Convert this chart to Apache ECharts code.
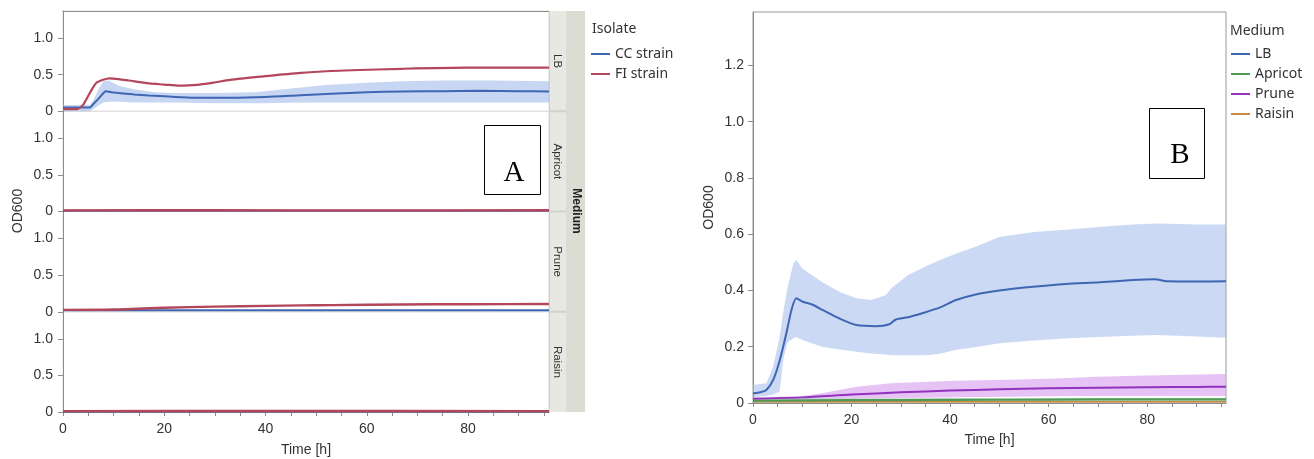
<!DOCTYPE html>
<html><head><meta charset="utf-8">
<script src="https://cdn.jsdelivr.net/npm/echarts@6/dist/echarts.min.js"></script>
<style>html,body{margin:0;padding:0;background:#fff}#c{width:1314px;height:459px}</style>
</head><body><div id="c"></div>
<script>
// ---------- tick / label arrays ----------
const xTicks = [0,5,10,15,20,25,30,35,40,45,50,55,60,65,70,75,80,85,90,95];
const xLabels = [0,20,40,60,80];
const yTicksA = [0,0.5,1.0];
const yTicksB = [0,0.2,0.4,0.6,0.8,1.0,1.2];
const facetNames = ['LB','Apricot','Prune','Raisin'];
const isolateNames = ['CC strain','FI strain'];
const mediumNames = ['LB','Apricot','Prune','Raisin'];

// ---------- Panel A : LB facet ----------
const A_LB_CC_t = [0,3,5.3,6,7,8,8.4,10,14,17,21,26,33,40,47,53,60,67,75,82,90,96];
const A_LB_CC_v = [0.05,0.05,0.05,0.1,0.17,0.25,0.275,0.255,0.23,0.215,0.2,0.185,0.185,0.195,0.22,0.24,0.26,0.27,0.275,0.28,0.275,0.27];
const A_LB_CCband_t  = [0,5.3,6,7,8,9,11,14,18,22,30,38,45,52,60,67,75,85,96];
const A_LB_CCband_hi = [0.085,0.085,0.15,0.3,0.41,0.42,0.35,0.3,0.26,0.25,0.25,0.26,0.31,0.36,0.39,0.41,0.42,0.42,0.41];
const A_LB_CCband_lo = [0.0,0.0,0.03,0.08,0.12,0.13,0.13,0.12,0.12,0.12,0.11,0.11,0.115,0.12,0.12,0.12,0.12,0.12,0.12];
const A_LB_FI_t = [0,2.7,4,5.3,6.6,7.9,9.2,11,13,17,20,23,27,29.7,33,40,47,53,57,67,80,96];
const A_LB_FI_v = [0.03,0.03,0.09,0.25,0.39,0.43,0.45,0.44,0.42,0.38,0.365,0.35,0.365,0.39,0.43,0.48,0.525,0.55,0.56,0.58,0.595,0.595];
// ---------- Panel A : Apricot facet ----------
const A_AP_CC_t = [0,96];
const A_AP_CC_v = [0.01,0.01];
const A_AP_FI_t = [0,30,60,96];
const A_AP_FI_v = [0.015,0.017,0.015,0.017];
// ---------- Panel A : Prune facet ----------
const A_PR_CC_t = [0,96];
const A_PR_CC_v = [0.02,0.02];
const A_PR_FI_t = [0,10,20,30,40,47,53,67,80,96];
const A_PR_FI_v = [0.025,0.03,0.055,0.07,0.08,0.087,0.09,0.1,0.103,0.105];
// ---------- Panel A : Raisin facet ----------
const A_RA_CC_t = [0,96];
const A_RA_CC_v = [0.008,0.008];
const A_RA_FI_t = [0,40,96];
const A_RA_FI_v = [0.012,0.013,0.012];

// ---------- Panel B ----------
const B_LB_t = [0,1.5,2.7,4.1,5.4,6.8,7.8,8.8,10.1,12,14.2,17.6,21,25,27.7,29,31.5,34.5,38,41.2,45,50,56.8,63.5,70.3,77,81.5,84,90,96];
const B_LB_v = [0.034,0.038,0.046,0.082,0.15,0.25,0.33,0.372,0.36,0.35,0.33,0.30,0.277,0.273,0.28,0.297,0.305,0.32,0.34,0.366,0.385,0.40,0.413,0.423,0.429,0.437,0.44,0.433,0.432,0.433];
const B_LBband_t  = [0,2.7,4.1,5.4,6.2,7,8.2,8.8,10,14,17.6,21,24,27,28,31.5,35,38,41,45,50,57,64,70,77,82,90,96];
const B_LBband_hi = [0.064,0.07,0.13,0.235,0.33,0.41,0.496,0.508,0.478,0.43,0.395,0.372,0.366,0.384,0.407,0.455,0.485,0.508,0.53,0.555,0.59,0.608,0.617,0.626,0.635,0.638,0.635,0.635];
const B_LBband_lo = [0.02,0.025,0.03,0.04,0.16,0.215,0.23,0.235,0.224,0.2,0.19,0.182,0.176,0.172,0.17,0.17,0.17,0.175,0.188,0.198,0.212,0.222,0.23,0.235,0.239,0.242,0.236,0.232];
const B_PR_t = [0,10,20,30,40,50,60,70,80,90,96];
const B_PR_v = [0.015,0.02,0.03,0.038,0.044,0.049,0.052,0.054,0.056,0.057,0.058];
const B_PRband_t  = [0,10,14,21,28,41,52,60,70,80,96];
const B_PRband_hi = [0.02,0.025,0.035,0.058,0.07,0.079,0.083,0.086,0.093,0.098,0.103];
const B_PRband_lo = [0.01,0.012,0.013,0.015,0.017,0.02,0.022,0.024,0.025,0.025,0.025];
const B_AP_t = [0,20,40,60,80,96];
const B_AP_v = [0.008,0.01,0.011,0.012,0.013,0.013];
const B_APband_t  = [0,40,96];
const B_APband_hi = [0.016,0.018,0.019];
const B_APband_lo = [0.003,0.004,0.005];
const B_RA_t = [0,96];
const B_RA_v = [0.004,0.004];

// ---------- styling ----------
const FONT = '"Liberation Sans", Arial, sans-serif';
const LFONT = '"Noto Sans", "Open Sans", sans-serif';
const AXC = '#8c8c8c';
const TXT = '#333333';
const C_CC = '#3e66b2', C_FI = '#b3465b';
const C_LB = '#3e66b2', C_AP = '#4f9a55', C_PR = '#9232bd', C_RA = '#c98b3c';
const gridTopsA = [11, 111.25, 211.5, 311.75];
const gridHA = 100.25;

function zip(t, v){ return t.map((x,i)=>[x, v[i]]); }
function fmt(v){ return v === 0 ? '0' : v.toFixed(1); }

function band(name, xi, yi, t, lo, hi, color, z){
  return {
    type:'custom', name:name, xAxisIndex:xi, yAxisIndex:yi, z:z, silent:true,
    data: t.map((x,i)=>[x, lo[i], hi[i]]),
    encode:{x:0, y:[1,2]},
    renderItem: function(params, api){
      if (params.dataIndex !== 0) return null;
      const pts = [];
      for (let i=0;i<t.length;i++) pts.push(api.coord([t[i], hi[i]]));
      for (let i=t.length-1;i>=0;i--) pts.push(api.coord([t[i], lo[i]]));
      return {type:'polygon', shape:{points:pts}, style:{fill:color}};
    }
  };
}
function line(name, xi, yi, t, v, color, w, z){
  return {type:'line', name:name, xAxisIndex:xi, yAxisIndex:yi, data:zip(t,v),
    showSymbol:false, symbol:'none', smooth:0.25, z:z,
    lineStyle:{width:w, color:color}, itemStyle:{color:color}, emphasis:{disabled:true}};
}

const grids = [], xAxes = [], yAxes = [];
for (let i=0;i<4;i++){
  grids.push({left:63, top:gridTopsA[i], width:486, height:gridHA, show:true,
    borderColor:'#dedede', borderWidth:1, backgroundColor:'transparent', outerBoundsMode:'none', containLabel:false});
  const bottom = i===3;
  xAxes.push({type:'value', gridIndex:i, min:0, max:96, position: i===0?'top':'bottom',
    axisLine:{show: i===0 || bottom, onZero:false, lineStyle:{color:AXC, width:1}},
    axisTick:{show:bottom, customValues:xTicks, length:4, lineStyle:{color:AXC}},
    axisLabel:{show:bottom, customValues:xLabels, margin:10, color:TXT, fontSize:14, fontFamily:FONT},
    splitLine:{show:false},
    name: bottom ? 'Time [h]' : '', nameLocation:'middle', nameGap:31,
    nameTextStyle:{color:TXT, fontSize:14, fontFamily:FONT}});
  yAxes.push({type:'value', gridIndex:i, min:0, max:1.37,
    axisLine:{show:true, onZero:false, lineStyle:{color:AXC, width:1}},
    axisTick:{show:true, customValues:yTicksA, length:5, lineStyle:{color:AXC}},
    axisLabel:{customValues:yTicksA, formatter:fmt, margin:10, color:TXT, fontSize:14, fontFamily:FONT},
    splitLine:{show:false}});
}
// panel B
grids.push({left:753, top:12, width:473, height:391, show:true, borderColor:'#9a9a9a', borderWidth:1,
  backgroundColor:'transparent', outerBoundsMode:'none', containLabel:false});
xAxes.push({type:'value', gridIndex:4, min:0, max:96,
  axisLine:{show:true, onZero:false, lineStyle:{color:AXC}},
  axisTick:{show:true, customValues:xTicks, length:4, lineStyle:{color:AXC}},
  axisLabel:{customValues:xLabels, margin:10, color:TXT, fontSize:14, fontFamily:FONT},
  splitLine:{show:false}, name:'Time [h]', nameLocation:'middle', nameGap:30,
  nameTextStyle:{color:TXT, fontSize:14, fontFamily:FONT}});
yAxes.push({type:'value', gridIndex:4, min:0, max:1.39,
  axisLine:{show:true, onZero:false, lineStyle:{color:AXC}},
  axisTick:{show:true, customValues:yTicksB, length:5, lineStyle:{color:AXC}},
  axisLabel:{customValues:yTicksB, formatter:fmt, margin:9, color:TXT, fontSize:14, fontFamily:FONT},
  splitLine:{show:false}, name:'OD600', nameLocation:'middle', nameGap:37,
  nameTextStyle:{color:TXT, fontSize:14, fontFamily:FONT}});

const series = [
  band('CC band', 0, 0, A_LB_CCband_t, A_LB_CCband_lo, A_LB_CCband_hi, 'rgba(160,186,235,0.6)', 1),
  line('CC strain', 0, 0, A_LB_CC_t, A_LB_CC_v, C_CC, 2, 3),
  line('FI strain', 0, 0, A_LB_FI_t, A_LB_FI_v, C_FI, 2.2, 4),
  line('CC strain', 1, 1, A_AP_CC_t, A_AP_CC_v, C_CC, 2, 3),
  line('FI strain', 1, 1, A_AP_FI_t, A_AP_FI_v, C_FI, 2.4, 4),
  line('CC strain', 2, 2, A_PR_CC_t, A_PR_CC_v, C_CC, 2, 3),
  line('FI strain', 2, 2, A_PR_FI_t, A_PR_FI_v, C_FI, 2.4, 4),
  line('CC strain', 3, 3, A_RA_CC_t, A_RA_CC_v, C_CC, 2, 3),
  line('FI strain', 3, 3, A_RA_FI_t, A_RA_FI_v, C_FI, 2.4, 4),
  band('LB band', 4, 4, B_LBband_t, B_LBband_lo, B_LBband_hi, 'rgba(160,186,235,0.55)', 1),
  band('Prune band', 4, 4, B_PRband_t, B_PRband_lo, B_PRband_hi, 'rgba(220,170,240,0.7)', 1),
  band('Apricot band', 4, 4, B_APband_t, B_APband_lo, B_APband_hi, 'rgba(190,215,190,0.7)', 1),
  line('Raisin', 4, 4, B_RA_t, B_RA_v, C_RA, 1.5, 3),
  line('Apricot', 4, 4, B_AP_t, B_AP_v, C_AP, 2.2, 3),
  line('Prune', 4, 4, B_PR_t, B_PR_v, C_PR, 2, 4),
  line('LB', 4, 4, B_LB_t, B_LB_v, C_LB, 2, 5)
];

// facet strips (decoration + labels)
const graphic = [
  {type:'rect', shape:{x:549, y:11, width:17, height:401}, style:{fill:'#e8e8e2'}, z:10},
  {type:'rect', shape:{x:566, y:11, width:19, height:401}, style:{fill:'#dcdcd2'}, z:10},
  {type:'line', shape:{x1:549.5, y1:11, x2:549.5, y2:412}, style:{stroke:'#cfcfca', lineWidth:1}, z:11}
];
for (let i=1;i<4;i++){
  graphic.push({type:'line', shape:{x1:549, y1:gridTopsA[i], x2:566, y2:gridTopsA[i]}, style:{stroke:'#d2d2cc', lineWidth:2}, z:11});
}
facetNames.forEach((n,i)=>{
  graphic.push({type:'text', x:557.5, y:gridTopsA[i]+gridHA/2, rotation:-Math.PI/2, z:12,
    style:{text:n, fill:TXT, font:'11.5px '+FONT, textAlign:'center', textVerticalAlign:'middle'}});
});
graphic.push({type:'text', x:576, y:211, rotation:-Math.PI/2, z:12,
  style:{text:'Medium', fill:'#222', font:'bold 12px '+FONT, textAlign:'center', textVerticalAlign:'middle'}});
graphic.push({type:'text', x:18, y:211, rotation:Math.PI/2, z:12,
  style:{text:'OD600', fill:TXT, font:'14px '+FONT, textAlign:'center', textVerticalAlign:'middle'}});
// panel letters
graphic.push({type:'rect', shape:{x:484.5, y:125.5, width:56, height:69}, style:{fill:'#fff', stroke:'#000', lineWidth:1}, z:20});
graphic.push({type:'text', x:514, y:173, z:21, style:{text:'A', fill:'#000', font:'29px "Liberation Serif", "Times New Roman", serif', textAlign:'center', textVerticalAlign:'middle'}});
graphic.push({type:'rect', shape:{x:1149.5, y:108.5, width:55, height:70}, style:{fill:'#fff', stroke:'#000', lineWidth:1}, z:20});
graphic.push({type:'text', x:1180, y:155, z:21, style:{text:'B', fill:'#000', font:'29px "Liberation Serif", "Times New Roman", serif', textAlign:'center', textVerticalAlign:'middle'}});

const option = {
  animation:false,
  backgroundColor:'#ffffff',
  title:[
    {text:'Isolate', left:592, top:22, padding:0, textStyle:{fontSize:14, fontWeight:'normal', color:TXT, fontFamily:LFONT}},
    {text:'Medium', left:1230, top:24, padding:0, textStyle:{fontSize:14, fontWeight:'normal', color:TXT, fontFamily:LFONT}}
  ],
  legend:[
    {data:isolateNames, left:591, top:47, orient:'vertical', icon:'rect', itemWidth:19, itemHeight:2, itemGap:6,
     padding:0, selectedMode:false, textStyle:{fontSize:14, color:TXT, fontFamily:LFONT}},
    {data:mediumNames, left:1231, top:47, orient:'vertical', icon:'rect', itemWidth:19, itemHeight:2, itemGap:6,
     padding:0, selectedMode:false, textStyle:{fontSize:14, color:TXT, fontFamily:LFONT}}
  ],
  grid:grids, xAxis:xAxes, yAxis:yAxes, series:series, graphic:graphic
};
const chart = echarts.init(document.getElementById('c'), null, {renderer:'canvas'});
chart.setOption(option);
</script></body></html>
